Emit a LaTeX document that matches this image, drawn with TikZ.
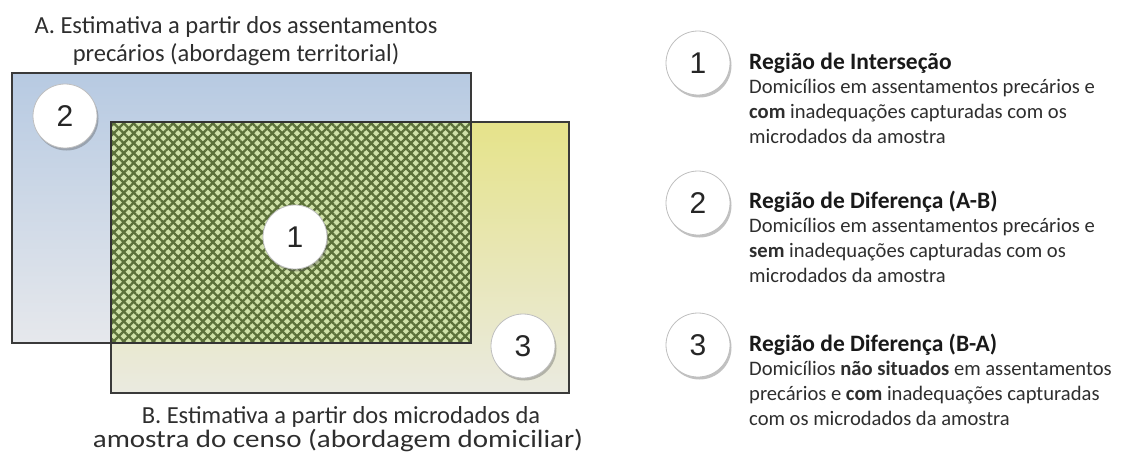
\documentclass[tikz,border=0pt]{standalone}
\usepackage{fontspec}
\setmainfont{Carlito}
\newfontfamily\numfont{Liberation Sans}
\usetikzlibrary{patterns.meta,shadows}
\definecolor{blueTop}{HTML}{B7CAE2}
\definecolor{blueBot}{HTML}{E6E8EC}
\definecolor{yelTop}{HTML}{E6E38A}
\definecolor{yelBot}{HTML}{EAEAE0}
\definecolor{hatchBg}{HTML}{CFE1A8}
\definecolor{hatchLn}{HTML}{5B7039}
\definecolor{edge}{HTML}{3A3A3A}
\definecolor{txt}{HTML}{2E2E2E}
\tikzset{
  numcircle/.style={circle, minimum size=64pt, inner sep=0pt, fill=white,
    draw=black!25, line width=0.8pt, font=\numfont\fontsize{30}{34}\selectfont,
    text=black!85, drop shadow={shadow xshift=1.5pt, shadow yshift=-2.5pt, opacity=0.35, fill=black!70}},
  boxedge/.style={draw=edge, line width=1.5pt},
  titletext/.style={font=\fontsize{24.5}{28}\selectfont, align=center, text=txt, inner sep=0pt},
  headtext/.style={font=\bfseries\fontsize{23.5}{25}\selectfont, anchor=base west, inner sep=0pt, text=black!90},
  bodytext/.style={font=\fontsize{20.6}{25}\selectfont, anchor=base west, inner sep=0pt, text=txt}
}
\begin{document}
\begin{tikzpicture}[x=1pt,y=-1pt]
\useasboundingbox (0,0) rectangle (1125,455);
% rectangle B
\shade[top color=yelTop, bottom color=yelBot] (111,122) rectangle (569,393);
% rectangle A
\shade[top color=blueTop, bottom color=blueBot] (12,73) rectangle (471,343);
% intersection
\fill[hatchBg] (111,122) rectangle (471,343);
\fill[pattern={Lines[angle=45,distance=7pt,line width=2.3pt]}, pattern color=hatchLn] (111,122) rectangle (471,343);
\fill[pattern={Lines[angle=-45,distance=7pt,line width=2.3pt]}, pattern color=hatchLn] (111,122) rectangle (471,343);
\draw[boxedge] (111,122) rectangle (569,393);
\draw[boxedge] (12,73) rectangle (471,343);
\draw[draw=black!80, line width=1.5pt] (111,122) rectangle (471,343);
% circles in diagram
\node[numcircle] (c2) at (65,116) {2};
\node[numcircle] (c1) at (295,237) {1};
\node[numcircle] (c3) at (523,346) {3};
% titles
\node[titletext] (tA) at (236,41) {A. Estimativa a partir dos assentamentos\\precários (abordagem territorial)};
\node[titletext] (tB1) at (341,417) {B. Estimativa a partir dos microdados da};
\node[titletext, font=\fontsize{25}{28}\selectfont] (tB2) at (338,441) {\scalebox{1.16}[1]{amostra do censo (abordagem domiciliar)}};
% legend
\node[numcircle] (l1) at (698,63) {1};
\node[numcircle] (l2) at (698,203) {2};
\node[numcircle] (l3) at (698,345) {3};
\node[headtext] (h1) at (749,69) {Região de Interseção};
\node[bodytext] (b11) at (749,93) {Domicílios em assentamentos precários e};
\node[bodytext] (b12) at (749,118) {\textbf{com} inadequações capturadas com os};
\node[bodytext] (b13) at (749,143) {microdados da amostra};
\node[headtext] (h2) at (749,208) {Região de Diferença (A-B)};
\node[bodytext] (b21) at (749,232) {Domicílios em assentamentos precários e};
\node[bodytext] (b22) at (749,257) {\textbf{sem} inadequações capturadas com os};
\node[bodytext] (b23) at (749,282) {microdados da amostra};
\node[headtext] (h3) at (749,351) {Região de Diferença (B-A)};
\node[bodytext] (b31) at (749,375) {Domicílios \textbf{não situados} em assentamentos};
\node[bodytext] (b32) at (749,400) {precários e \textbf{com} inadequações capturadas};
\node[bodytext] (b33) at (749,425) {com os microdados da amostra};
\end{tikzpicture}
\end{document}
